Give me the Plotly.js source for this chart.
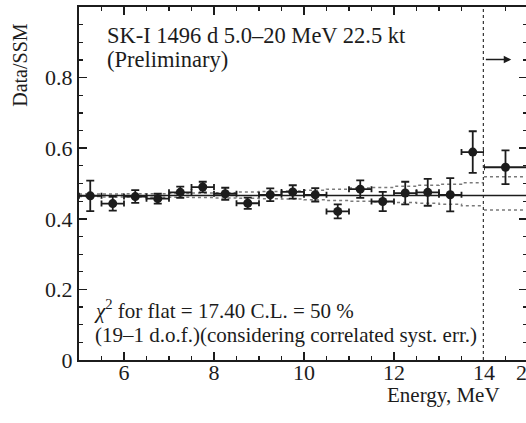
<!DOCTYPE html>
<html><head><meta charset="utf-8">
<script src="https://cdn.plot.ly/plotly-3.0.1.min.js"></script>
<style>html,body{margin:0;padding:0;overflow:hidden;background:#fff;width:526px;height:423px}</style>
</head><body><div id="chart" style="width:540px;height:423px"></div>
<script>
// 0.5 MeV bins from 5.0 to 14.0 MeV
const energy = [5.25,5.75,6.25,6.75,7.25,7.75,8.25,8.75,9.25,9.75,10.25,10.75,11.25,11.75,12.25,12.75,13.25,13.75];
const binHalfWidth = [0.25,0.25,0.25,0.25,0.25,0.25,0.25,0.25,0.25,0.25,0.25,0.25,0.25,0.25,0.25,0.25,0.25,0.25];
const ratio = [0.465,0.443,0.463,0.457,0.475,0.490,0.471,0.444,0.468,0.476,0.468,0.421,0.484,0.449,0.473,0.475,0.468,0.589];
const ratioErr = [0.043,0.020,0.018,0.014,0.016,0.015,0.017,0.016,0.018,0.019,0.019,0.020,0.025,0.027,0.032,0.038,0.047,0.059];
// last bin 14-20 MeV
const energyHigh = [17];
const halfWidthHigh = [3];
const ratioHigh = [0.546];
const ratioErrHigh = [0.048];
// correlated systematic band
const bandEdges = [5.0,5.5,6.0,6.5,7.0,7.5,8.0,8.5,9.0,9.5,10.0,10.5,11.0,11.5,12.0,12.5,13.0,13.5,14.0];
const bandUpper = [0.470,0.470,0.471,0.471,0.472,0.473,0.474,0.476,0.477,0.479,0.481,0.484,0.487,0.489,0.492,0.495,0.498,0.502];
const bandLower = [0.463,0.462,0.462,0.461,0.461,0.460,0.459,0.458,0.457,0.456,0.454,0.452,0.450,0.448,0.446,0.444,0.441,0.437];
const bandEdgesHigh = [14,20];
const bandUpperHigh = [0.519];
const bandLowerHigh = [0.425];
const flatValue = 0.466;

const ink = '#1c1c1c';
const bandColor = '#7a7a7a';
const serif = 'Liberation Serif, Times New Roman, serif';
function stepY(v){ return v.concat([v[v.length-1]]); }

const traces = [
  {x: bandEdges, y: stepY(bandUpper), xaxis:'x', yaxis:'y', mode:'lines', line:{shape:'hv', dash:'dot', width:1.5, color:bandColor}, hoverinfo:'skip'},
  {x: bandEdges, y: stepY(bandLower), xaxis:'x', yaxis:'y', mode:'lines', line:{shape:'hv', dash:'dot', width:1.5, color:bandColor}, hoverinfo:'skip'},
  {x: bandEdgesHigh, y: stepY(bandUpperHigh), xaxis:'x2', yaxis:'y2', mode:'lines', line:{shape:'hv', dash:'dot', width:1.5, color:bandColor}, hoverinfo:'skip'},
  {x: bandEdgesHigh, y: stepY(bandLowerHigh), xaxis:'x2', yaxis:'y2', mode:'lines', line:{shape:'hv', dash:'dot', width:1.5, color:bandColor}, hoverinfo:'skip'},
  {x: energy, y: ratio, xaxis:'x', yaxis:'y', mode:'markers', marker:{size:9, color:ink},
   error_y:{type:'data', array: ratioErr, color:ink, thickness:1.8, width:4},
   error_x:{type:'data', array: binHalfWidth, color:ink, thickness:1.8, width:3}},
  {x: energyHigh, y: ratioHigh, xaxis:'x2', yaxis:'y2', mode:'markers', marker:{size:9, color:ink},
   error_y:{type:'data', array: ratioErrHigh, color:ink, thickness:1.8, width:4},
   error_x:{type:'data', array: halfWidthHigh, color:ink, thickness:1.8, width:3}}
];

const axisCommon = {showline:true, linewidth:2, linecolor:ink, ticks:'inside', tickcolor:ink, tickwidth:1.5, ticklen:8,
  showgrid:false, zeroline:false, tickfont:{family:serif, size:22, color:ink}};

const layout = {
  width:540, height:423,
  margin:{l:79, r:13, t:7, b:63},
  paper_bgcolor:'#fff', plot_bgcolor:'#fff',
  showlegend:false,
  font:{family:serif, size:21, color:ink},
  xaxis: Object.assign({}, axisCommon, {domain:[0,0.904], range:[5,14], anchor:'y', mirror:'allticks',
    tickmode:'linear', tick0:0, dtick:2, ticklabelstandoff:-8,
    minor:{tickmode:'linear', tick0:5, dtick:0.5, ticks:'inside', ticklen:4, tickwidth:1.2, tickcolor:ink}}),
  xaxis2: Object.assign({}, axisCommon, {domain:[0.904,1], range:[14,20], anchor:'y', mirror:'allticks',
    tickmode:'array', tickvals:[20], ticktext:['20'], ticklabelstandoff:-8,
    minor:{tickmode:'array', tickvals:[17], ticks:'inside', ticklen:4, tickwidth:1.2, tickcolor:ink}}),
  yaxis: Object.assign({}, axisCommon, {range:[0,1], anchor:'x', tickmode:'linear', tick0:0, dtick:0.2,
    minor:{tickmode:'linear', tick0:0, dtick:0.05, ticks:'inside', ticklen:4, tickwidth:1.2, tickcolor:ink}}),
  yaxis2: Object.assign({}, axisCommon, {range:[0,1], anchor:'x2', overlaying:'y', side:'right', showticklabels:false,
    tickmode:'linear', tick0:0, dtick:0.2,
    minor:{tickmode:'linear', tick0:0, dtick:0.05, ticks:'inside', ticklen:4, tickwidth:1.2, tickcolor:ink}}),
  shapes:[
    {type:'line', xref:'x', yref:'paper', x0:14, x1:14, y0:0, y1:1, line:{color:'#3a3a3a', width:2.5, dash:'dot'}},
    {type:'line', xref:'paper', yref:'y', x0:0, x1:1, y0:flatValue, y1:flatValue, line:{color:ink, width:1.6}}
  ],
  annotations:[
    {text:'SK-I 1496 d 5.0–20 MeV 22.5 kt', xref:'x', yref:'y', x:5.58, y:0.92, xanchor:'left', yanchor:'middle', showarrow:false, font:{size:22.5}},
    {text:'(Preliminary)', xref:'x', yref:'y', x:5.58, y:0.851, xanchor:'left', yanchor:'middle', showarrow:false, font:{size:22.5}},
    {text:'<i>χ</i><sup>2</sup> for flat = 17.40 C.L. = 50 %', xref:'x', yref:'y', x:5.29, y:0.142, xanchor:'left', yanchor:'middle', showarrow:false},
    {text:'(19–1 d.o.f.)(considering correlated syst. err.)', xref:'x', yref:'y', x:5.31, y:0.071, xanchor:'left', yanchor:'middle', showarrow:false},
    {text:'Data/SSM', xref:'paper', yref:'paper', x:-0.132, y:0.836, xanchor:'center', yanchor:'middle', textangle:-90, showarrow:false, font:{size:20}},
    {text:'Energy, MeV', xref:'paper', yref:'paper', x:0.814, y:-0.099, xanchor:'center', yanchor:'middle', showarrow:false},
    {text:'', xref:'x2', yref:'y', x:17.8, y:0.851, axref:'x2', ayref:'y', ax:14.05, ay:0.851, showarrow:true, arrowhead:2, arrowsize:1, arrowwidth:1.5, arrowcolor:ink}
  ]
};

Plotly.newPlot('chart', traces, layout, {staticPlot:true, displayModeBar:false});
</script></body></html>
